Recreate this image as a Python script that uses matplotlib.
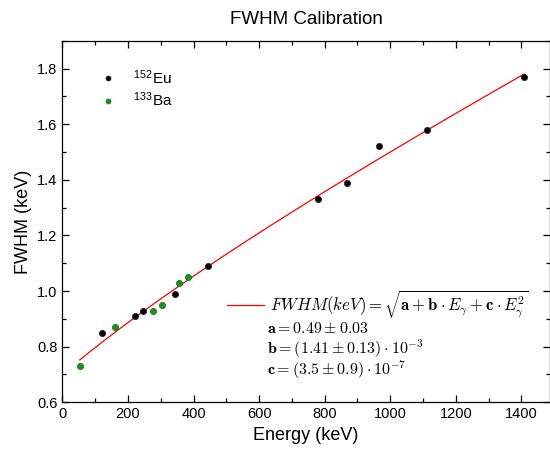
import numpy as np
import matplotlib
matplotlib.use("Agg")
import matplotlib.pyplot as plt
from matplotlib.ticker import MultipleLocator

plt.rcParams["font.family"] = ["Liberation Sans", "DejaVu Sans"]
plt.rcParams["mathtext.fontset"] = "cm"

# 152Eu peaks
eu_energy = [121.8, 222.6, 244.7, 344.3, 444.0, 778.9, 867.4, 964.1, 1112.1, 1408.0]
eu_fwhm = [0.85, 0.91, 0.93, 0.99, 1.09, 1.33, 1.39, 1.52, 1.58, 1.77]

# 133Ba peaks
ba_energy = [53.2, 160.6, 276.4, 302.9, 356.0, 383.9]
ba_fwhm = [0.73, 0.87, 0.93, 0.95, 1.03, 1.05]

# fit parameters shown on the chart
fit_a = 0.49
fit_b = 1.41e-3
fit_c = 3.5e-7
fit_range = [53.2, 1408.0]

fig = plt.figure(figsize=(5.5, 4.55), dpi=100)
ax = fig.add_axes([0.1133, 0.1158, 0.8867, 0.7947])

e = np.linspace(fit_range[0], fit_range[1], 300)
fit_line, = ax.plot(e, np.sqrt(fit_a + fit_b * e + fit_c * e**2), color="red", lw=0.9,
                    label=r"$FWHM(keV) = \sqrt{\mathbf{a} + \mathbf{b}\cdot E_\gamma + \mathbf{c}\cdot E_\gamma^2}$")

eu_pts, = ax.plot(eu_energy, eu_fwhm, "o", color="black", ms=4.5, mec="#222222", mew=0.5,
                  label=r"$^{\mathregular{152}}$Eu")
ba_pts, = ax.plot(ba_energy, ba_fwhm, "o", color="#1f8f1f", ms=4.5, mec="#167016", mew=0.5,
                  label=r"$^{\mathregular{133}}$Ba")

ax.set_xlim(0, 1487)
ax.set_ylim(0.6, 1.9)
ax.xaxis.set_major_locator(MultipleLocator(200))
ax.xaxis.set_minor_locator(MultipleLocator(100))
ax.yaxis.set_major_locator(MultipleLocator(0.2))
ax.yaxis.set_minor_locator(MultipleLocator(0.1))
ax.yaxis.set_major_formatter(matplotlib.ticker.FormatStrFormatter("%.1f"))
ax.tick_params(which="both", direction="in", top=True, right=True, labelsize=10.5)
ax.tick_params(which="major", length=5, width=0.9)
ax.tick_params(which="minor", length=3, width=0.9)
for s in ax.spines.values():
    s.set_linewidth(0.9)

ax.set_xlabel("Energy (keV)", fontsize=13)
ax.set_ylabel("FWHM (keV)", fontsize=13)
ax.set_title("FWHM Calibration", fontsize=13.5, pad=12)

leg1 = ax.legend(handles=[eu_pts, ba_pts], loc="center left", bbox_to_anchor=(0.079, 0.868),
                 frameon=False, fontsize=11, handlelength=1.0, handletextpad=1.1,
                 labelspacing=0.25, borderpad=0, borderaxespad=0, markerscale=0.8)
ax.add_artist(leg1)
ax.legend(handles=[fit_line], loc="center left", bbox_to_anchor=(0.338, 0.271), frameon=False,
          fontsize=12, handlelength=2.2, handletextpad=0.35, borderpad=0, borderaxespad=0)

ax.text(0.42, 0.205, r"$\mathbf{a} = 0.49 \pm 0.03$", transform=ax.transAxes, fontsize=11.5, va="center")
ax.text(0.42, 0.148, r"$\mathbf{b} = (1.41 \pm 0.13)\cdot 10^{-3}$", transform=ax.transAxes, fontsize=11.5, va="center")
ax.text(0.42, 0.091, r"$\mathbf{c} = (3.5 \pm 0.9)\cdot 10^{-7}$", transform=ax.transAxes, fontsize=11.5, va="center")

fig.savefig("out.png", dpi=100)
